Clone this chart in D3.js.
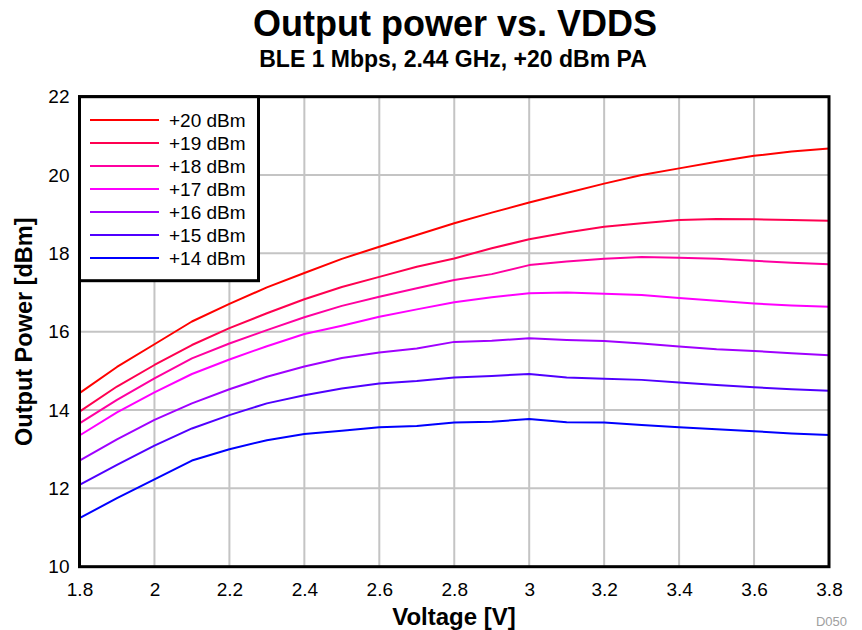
<!DOCTYPE html>
<html><head><meta charset="utf-8">
<script src="https://cdn.jsdelivr.net/npm/d3@7"></script>
<style>body{margin:0;background:#fff}svg{display:block;font-family:"Liberation Sans",Arial,sans-serif}</style>
</head><body><svg id="c" width="862" height="630"></svg>
<script>
const voltages = [1.8,1.9,2.0,2.1,2.2,2.3,2.4,2.5,2.6,2.7,2.8,2.9,3.0,3.1,3.2,3.3,3.4,3.5,3.6,3.7,3.8];
const seriesNames = ["+20 dBm","+19 dBm","+18 dBm","+17 dBm","+16 dBm","+15 dBm","+14 dBm"];
const seriesColors = ["#ff0000","#ff0050","#ff00a0","#ff00ff","#a000ff","#5000ff","#0000ff"];
const p20 = [14.43,15.10,15.68,16.26,16.71,17.13,17.50,17.86,18.17,18.47,18.77,19.04,19.30,19.54,19.78,20.00,20.17,20.34,20.49,20.60,20.68];
const p19 = [13.96,14.60,15.15,15.66,16.09,16.47,16.83,17.14,17.40,17.66,17.87,18.13,18.36,18.53,18.68,18.77,18.85,18.88,18.87,18.85,18.83];
const p18 = [13.66,14.26,14.81,15.32,15.70,16.04,16.37,16.66,16.89,17.11,17.32,17.47,17.70,17.79,17.86,17.91,17.89,17.86,17.81,17.76,17.72];
const p17 = [13.35,13.94,14.45,14.92,15.29,15.63,15.94,16.15,16.38,16.57,16.75,16.88,16.98,17.00,16.97,16.94,16.86,16.79,16.72,16.67,16.64];
const p16 = [12.71,13.25,13.75,14.17,14.53,14.85,15.11,15.33,15.47,15.57,15.74,15.77,15.83,15.79,15.76,15.70,15.62,15.55,15.51,15.45,15.40];
const p15 = [12.09,12.60,13.09,13.53,13.87,14.17,14.38,14.55,14.68,14.74,14.83,14.87,14.92,14.83,14.80,14.77,14.70,14.64,14.58,14.53,14.49];
const p14 = [11.24,11.75,12.23,12.71,13.00,13.23,13.39,13.47,13.56,13.59,13.68,13.70,13.77,13.69,13.68,13.62,13.56,13.51,13.46,13.40,13.36];
const seriesValues = [p20,p19,p18,p17,p16,p15,p14];
const xTicks = [1.8,2.0,2.2,2.4,2.6,2.8,3.0,3.2,3.4,3.6,3.8];
const xTickLabels = ["1.8","2","2.2","2.4","2.6","2.8","3","3.2","3.4","3.6","3.8"];
const yTicks = [10,12,14,16,18,20,22];

const svg = d3.select("#c");
const L=79.5, R=829, T=96.7, B=566.7;
const x = d3.scaleLinear().domain([1.8,3.8]).range([L,R]);
const y = d3.scaleLinear().domain([10,22]).range([B,T]);

// grid
const g = svg.append("g");
g.selectAll(".gx").data(xTicks).join("line")
  .attr("x1",d=>x(d)).attr("x2",d=>x(d)).attr("y1",T).attr("y2",B)
  .attr("stroke","#c4c4c4").attr("stroke-width",2);
g.selectAll(".gy").data(yTicks).join("line")
  .attr("y1",d=>y(d)).attr("y2",d=>y(d)).attr("x1",L).attr("x2",R)
  .attr("stroke","#c4c4c4").attr("stroke-width",2);

// lines
const line = d3.line().x((d,i)=>x(voltages[i])).y(d=>y(d));
seriesValues.forEach((vals,k)=>{
  svg.append("path").datum(vals).attr("d",line)
    .attr("fill","none").attr("stroke",seriesColors[k]).attr("stroke-width",2)
    .attr("stroke-linejoin","round");
});

// frame
svg.append("rect").attr("x",L).attr("y",T).attr("width",R-L).attr("height",B-T)
  .attr("fill","none").attr("stroke","#000").attr("stroke-width",3);

// axes tick labels
const xa = svg.append("g").attr("transform",`translate(0,${B})`)
  .call(d3.axisBottom(x).tickValues(xTicks).tickFormat((d,i)=>xTickLabels[i]).tickSize(0).tickPadding(16));
xa.select(".domain").remove();
xa.selectAll("text").attr("font-size",19).attr("fill","#000").attr("font-family","Liberation Sans, Arial, sans-serif");
const ya = svg.append("g").attr("transform",`translate(${L},0)`)
  .call(d3.axisLeft(y).tickValues(yTicks).tickFormat(d3.format("d")).tickSize(0).tickPadding(10));
ya.select(".domain").remove();
ya.selectAll("text").attr("font-size",19).attr("fill","#000").attr("font-family","Liberation Sans, Arial, sans-serif");

// legend
const lg = svg.append("g");
lg.append("rect").attr("x",L).attr("y",T).attr("width",179).attr("height",184)
  .attr("fill","#fff").attr("stroke","#000").attr("stroke-width",3);
seriesNames.forEach((n,k)=>{
  const yy = 120 + k*23;
  lg.append("line").attr("x1",90).attr("x2",159).attr("y1",yy).attr("y2",yy)
    .attr("stroke",seriesColors[k]).attr("stroke-width",2);
  lg.append("text").attr("x",169).attr("y",yy+7).attr("font-size",19).text(n);
});

// titles
svg.append("text").attr("x",455).attr("y",36).attr("text-anchor","middle")
  .attr("font-size",36).attr("font-weight","bold").text("Output power vs. VDDS");
svg.append("text").attr("x",453).attr("y",67).attr("text-anchor","middle")
  .attr("font-size",23).attr("font-weight","bold").text("BLE 1 Mbps, 2.44 GHz, +20 dBm PA");
svg.append("text").attr("x",454).attr("y",625).attr("text-anchor","middle")
  .attr("font-size",24).attr("font-weight","bold").text("Voltage [V]");
svg.append("text").attr("transform",`translate(32,${(T+B)/2}) rotate(-90)`).attr("text-anchor","middle")
  .attr("font-size",23.5).attr("font-weight","bold").text("Output Power [dBm]");
svg.append("text").attr("x",847).attr("y",626).attr("text-anchor","end")
  .attr("font-size",13).attr("fill","#a0a0a0").text("D050");
</script></body></html>
